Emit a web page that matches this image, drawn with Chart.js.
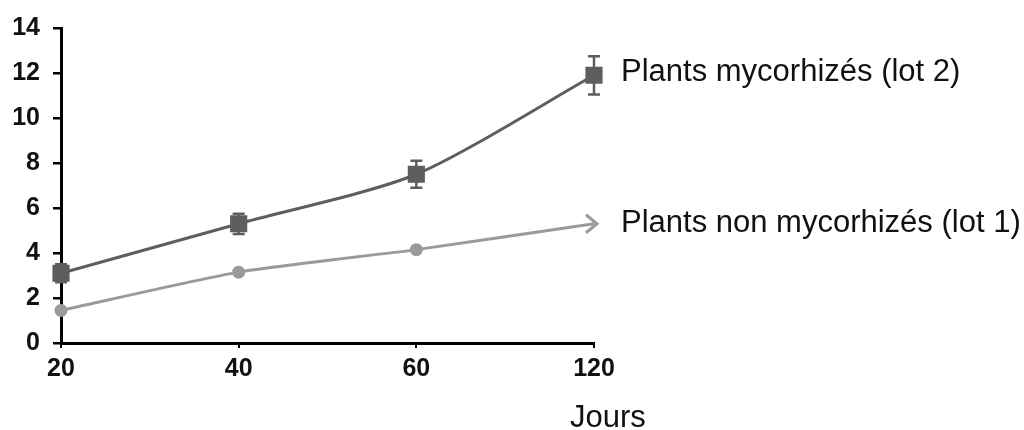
<!DOCTYPE html>
<html>
<head>
<meta charset="utf-8">
<script src="https://cdn.jsdelivr.net/npm/chart.js@4.4.1/dist/chart.umd.min.js"></script>
<style>
  body { margin: 0; background: #fff; }
</style>
</head>
<body>
<canvas id="myChart" width="1024" height="430"></canvas>
<script>
// données
var jours = ['20', '40', '60', '120'];
var lot2 = [3.1, 5.3, 7.5, 11.9];      // plants mycorhizés
var lot2Err = [0.4, 0.45, 0.6, 0.85];  // barres d'erreur lot 2
var lot1 = [1.45, 3.15, 4.15, 5.3];    // plants non mycorhizés
var yTicks = [0, 2, 4, 6, 8, 10, 12, 14];

var lot2Label = 'Plants mycorhizés (lot 2)';
var lot1Label = 'Plants non mycorhizés (lot 1)';
var xTitle = 'Jours';

var darkGray = '#5e5e5e';
var lightGray = '#9a9a9a';

// barres d'erreur + flèche + textes
var extras = {
    id: 'extras',
    beforeDatasetsDraw: function(chart) {
        var ctx = chart.ctx;
        var x = chart.scales.x, y = chart.scales.y;
        ctx.save();
        ctx.strokeStyle = darkGray;
        ctx.lineWidth = 2.5;
        for (var i = 0; i < lot2.length; i++) {
            var px = x.getPixelForValue(i);
            var top = y.getPixelForValue(lot2[i] + lot2Err[i]);
            var bot = y.getPixelForValue(lot2[i] - lot2Err[i]);
            ctx.beginPath();
            ctx.moveTo(px, top); ctx.lineTo(px, bot);
            ctx.moveTo(px - 6, top); ctx.lineTo(px + 6, top);
            ctx.moveTo(px - 6, bot); ctx.lineTo(px + 6, bot);
            ctx.stroke();
        }
        ctx.restore();
    },
    afterDatasetsDraw: function(chart) {
        var ctx = chart.ctx;
        var x = chart.scales.x, y = chart.scales.y;
        var last = lot1.length - 1;
        var ax = x.getPixelForValue(last);
        var ay = y.getPixelForValue(lot1[last]);
        ctx.save();
        // flèche au bout du lot 1
        ctx.strokeStyle = lightGray;
        ctx.lineWidth = 3;
        ctx.beginPath();
        ctx.moveTo(ax - 8, ay - 9);
        ctx.lineTo(ax + 3, ay);
        ctx.lineTo(ax - 8, ay + 9);
        ctx.stroke();

        ctx.fillStyle = '#111';
        ctx.font = '31px "Liberation Sans", Arial, sans-serif';
        ctx.textAlign = 'left';
        ctx.textBaseline = 'alphabetic';
        var tx = chart.chartArea.right + 27;
        ctx.fillText(lot2Label, tx, y.getPixelForValue(lot2[last]) + 6);
        ctx.fillText(lot1Label, tx, ay + 8);
        ctx.fillText(xTitle, chart.chartArea.right - 24, chart.chartArea.bottom + 84);
        ctx.restore();
    }
};

var ctx = document.getElementById('myChart').getContext('2d');
new Chart(ctx, {
    type: 'line',
    data: {
        labels: jours,
        datasets: [{
            label: lot2Label,
            data: lot2,
            borderColor: darkGray,
            backgroundColor: darkGray,
            borderWidth: 3,
            pointStyle: 'rect',
            pointRadius: 10,
            tension: 0.25,
            clip: false
        }, {
            label: lot1Label,
            data: lot1,
            borderColor: lightGray,
            backgroundColor: lightGray,
            borderWidth: 3,
            pointStyle: 'circle',
            pointRadius: [5, 5, 5, 0],
            tension: 0.2,
            clip: false
        }]
    },
    options: {
        responsive: false,
        animation: false,
        layout: { padding: { top: 27, right: 430, left: 0, bottom: 0 } },
        plugins: {
            legend: { display: false },
            tooltip: { enabled: false }
        },
        scales: {
            x: {
                offset: false,
                border: { color: '#000', width: 3 },
                grid: { drawOnChartArea: false, color: '#000', lineWidth: 2, tickLength: 5 },
                ticks: {
                    color: '#111',
                    padding: 6,
                    maxRotation: 0,
                    font: { family: '"Liberation Sans", Arial, sans-serif', size: 25, weight: 'bold' }
                },
                afterFit: function(scale) { scale.height = 87; }
            },
            y: {
                min: 0,
                max: 14,
                afterBuildTicks: function(scale) {
                    scale.ticks = yTicks.map(function(v) { return { value: v }; });
                },
                border: { color: '#000', width: 3 },
                grid: { drawOnChartArea: false, color: '#000', lineWidth: 2.5, tickLength: 8 },
                ticks: {
                    color: '#111',
                    padding: 13,
                    font: { family: '"Liberation Sans", Arial, sans-serif', size: 25, weight: 'bold' }
                },
                afterFit: function(scale) { scale.width = 61; }
            }
        }
    },
    plugins: [extras]
});
</script>
</body>
</html>
